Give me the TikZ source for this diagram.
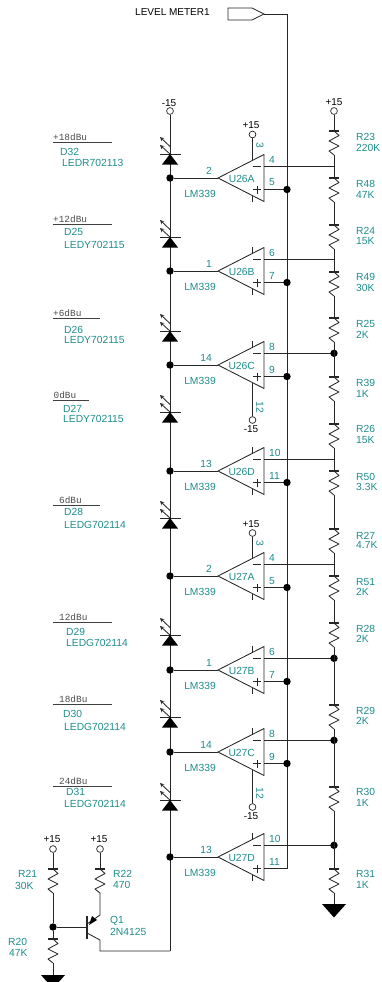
\documentclass[tikz,border=0pt]{standalone}
\usepackage{fontspec}
\setmainfont{Liberation Sans}
\setmonofont{Liberation Mono}
\definecolor{partteal}{RGB}{30,140,140}
\tikzset{
  wire/.style={line width=0.85pt,black!85},
  dot/.style={circle,fill=black,inner sep=0pt,minimum size=7.4pt},
  pad/.style={circle,draw=black!85,fill=white,line width=0.7pt,inner sep=0pt,minimum size=6.8pt},
  part/.style={text=partteal,font=\fontsize{10.3}{10.3}\selectfont,inner sep=0pt},
  volt/.style={text=black,font=\fontsize{10}{10}\selectfont,inner sep=0pt},
  level/.style={text=black!70,font=\ttfamily\fontsize{9.4}{9.4}\selectfont,inner sep=0pt,anchor=west},
  pics/res/.style={code={
    \draw[line width=1.3pt,black!85] (-5,0) -- (5,0);
    \draw[wire,line join=round] (0,0) -- (5,4.5) -- (-5,10) -- (5,15) -- (-5,20) -- (0,24);
    \coordinate (-top) at (0,0);
    \coordinate (-bot) at (0,24);
  }},
  pics/led/.style={code={
    \draw[wire] (-10.5,0) -- (10.5,0);
    \fill (-8,10.5) -- (8,10.5) -- (0,0) -- cycle;
    \draw[wire,->,>=stealth] (0,-7.5) -- (-10,-17);
    \draw[wire,->,>=stealth] (0,0) -- (-10,-9);
  }},
  pics/gnd/.style={code={
    \fill (-12,0) -- (12,0) -- (0,13.5) -- cycle;
  }}
}
\begin{document}
\begin{tikzpicture}[x=1pt,y=-1pt]
\useasboundingbox (0,0) rectangle (381,982);

% output tag and the two long rails
\draw[wire,line join=miter] (228,8) -- (252,8) -- (264,14) -- (252,20) -- (228,20) -- cycle;
\node[volt,anchor=west] (tagtext) at (135,12.5) {LEVEL METER1};
\coordinate (tagtip) at (264,14);
\coordinate (railtop) at (287,14);
\coordinate (railend) at (287,868.5);
\draw[wire] (tagtip) -- (railtop) -- (railend);

\node[pad] (vee) at (170,111) {};
\node[volt] (veetext) at (169,103) {-15};
\coordinate (ledend) at (170,951);
\draw[wire] (vee) -- (ledend);

\node[pad] (vcc) at (334,111) {};
\node[volt] (vcctext) at (334,102.5) {+15};
\coordinate (ladder) at (334,0);

% leds
\foreach \ypos in {154,237,331,412,518,635,717,800}{
  \pic at (170,\ypos) {led};
}
\foreach \lvl/\lx/\ly/\lend/\dname/\dx/\dy/\lname/\ex/\ey in {
  +18dBu/53/137/112/D32/60/152/LEDR702113/62/163,
  +12dBu/53/219/112/D25/64/232/LEDY702115/64/244.5,
  +6dBu/53/313/100/D26/64/329.5/LEDY702115/64/339.5,
  0dBu/53.5/395/89/D27/63/408.5/LEDY702115/63/419,
  6dBu/59/500/100/D28/64/512/LEDG702114/64/524.5,
  12dBu/59/616.7/112/D29/66/632/LEDG702114/66/642.5,
  18dBu/59/699/112/D30/63/714/LEDG702114/64/727,
  24dBu/59/781/112/D31/66/792/LEDG702114/64/804}{
  \node[level] (lvl\dname) at (\lx,\ly) {\lvl};
  \draw[line width=0.9pt,black!75] (53,\ly+5.7) -- (\lend,\ly+5.7);
  \node[part,anchor=west] (\dname) at (\dx,\dy) {\dname};
  \node[part,anchor=west] (val\dname) at (\ex,\ey) {\lname};
}

% comparators
\foreach \name/\ypos/\pin/\pinm/\pinp in {
  U26A/178/2/4/5, U26B/271/1/6/7, U26C/365/14/8/9, U26D/471/13/10/11,
  U27A/576/2/4/5, U27B/670/1/6/7, U27C/752/14/8/9, U27D/857/13/10/11}{
  \coordinate (\name) at (218,\ypos);
  \draw[wire,line join=miter] (\name) -- ++(46,-23.5) -- ++(0,47) -- cycle;
  \coordinate (\name m) at (264,\ypos-11.7);
  \coordinate (\name p) at (264,\ypos+11.5);
  \node[dot] (in\name) at (170,\ypos) {};
  \draw[wire] (in\name) -- (\name);
  \draw[wire] (\name m) -- (\name m -| ladder);
  \draw[wire] (\name p) -- (\name p -| railtop);
  \draw[wire] (252.5,\ypos-17.5) -- (252.5,\ypos-24);
  \draw[wire] (252.5,\ypos+17.5) -- (252.5,\ypos+24);
  \draw[wire] (253,\ypos-11.7) -- (261,\ypos-11.7);
  \draw[wire] (253,\ypos+11.5) -- (261,\ypos+11.5) (257,\ypos+7.5) -- (257,\ypos+15.5);
  \node[part] (text\name) at (241.7,\ypos+1) {\name};
  \node[part,anchor=east] (pin\name) at (212,\ypos-7.5) {\pin};
  \node[part] (type\name) at (200,\ypos+16) {LM339};
  \node[part,anchor=west] (pinm\name) at (269,\ypos-17.7) {\pinm};
  \node[part,anchor=west] (pinp\name) at (269,\ypos+4.5) {\pinp};
}
\foreach \name in {U26A,U26B,U26C,U26D,U27A,U27B,U27C}{
  \node[dot] (on\name) at (\name p -| railtop) {};
}
\foreach \name in {U26C,U27B,U27C,U27D}{
  \node[dot] (tap\name) at (\name m -| ladder) {};
}

% comparator supplies
\node[pad] (vccA) at (252.5,134.5) {};
\node[volt] (vccAtext) at (251,125.5) {+15};
\draw[wire] (vccA) -- (252.5,160.5);
\node[part,rotate=-90] (threeA) at (260,145) {3};
\node[pad] (vccB) at (252.5,533) {};
\node[volt] (vccBtext) at (251,524) {+15};
\draw[wire] (vccB) -- (252.5,558.5);
\node[part,rotate=-90] (threeB) at (260,543) {3};
\node[pad] (veeC) at (252.5,420) {};
\node[volt] (veeCtext) at (251,429.5) {-15};
\draw[wire] (veeC) -- (252.5,382.5);
\node[part,rotate=-90] (twelveC) at (260,407) {12};
\node[pad] (veeD) at (252.5,807) {};
\node[volt] (veeDtext) at (251,816.5) {-15};
\draw[wire] (veeD) -- (252.5,769.5);
\node[part,rotate=-90] (twelveD) at (260,793) {12};

% resistor ladder
\foreach \rname/\ypos/\rval/\ra/\rb in {
  R23/131/220K/136.5/147.5, R48/178/47K/184/195, R24/225/15K/230.5/241.5,
  R49/272/30K/277/288, R25/318/2K/324/335, R39/377/1K/383/394,
  R26/424/15K/429/440, R50/471/3.3K/477/487, R27/529/4.7K/536/545,
  R51/576/2K/582/592, R28/623/2K/629/639, R29/705/2K/711/721,
  R30/787/1K/792/803, R31/869/1K/874/885}{
  \pic (\rname) at (334,\ypos) {res};
  \node[part,anchor=west] (name\rname) at (356,\ra) {\rname};
  \node[part,anchor=west] (val\rname) at (356,\rb) {\rval};
}
\draw[wire] (vcc) -- (R23-top);
\foreach \ra/\rb in {R23/R48,R48/R24,R24/R49,R49/R25,R25/R39,R39/R26,R26/R50,
  R50/R27,R27/R51,R51/R28,R28/R29,R29/R30,R30/R31}{
  \draw[wire] (\ra-bot) -- (\rb-top);
}
\pic (gndA) at (334,904) {gnd};
\coordinate (gndAtop) at (334,904);
\draw[wire] (R31-bot) -- (gndAtop);

% driver transistor
\node[pad] (vccQa) at (53,849) {};
\node[volt] (vccQatext) at (52,839) {+15};
\node[pad] (vccQb) at (100,849) {};
\node[volt] (vccQbtext) at (99,839) {+15};
\pic (R21) at (53,869) {res};
\pic (R22) at (100,869) {res};
\pic (R20) at (53,939) {res};
\node[part,anchor=west] (nameR21) at (18,874) {R21};
\node[part,anchor=west] (valR21) at (15,886) {30K};
\node[part,anchor=west] (nameR22) at (113,874) {R22};
\node[part,anchor=west] (valR22) at (113,885) {470};
\node[part,anchor=west] (nameR20) at (8,942) {R20};
\node[part,anchor=west] (valR20) at (9,953) {47K};
\node[part,anchor=west] (nameQ1) at (110,921) {Q1};
\node[part,anchor=west] (typeQ1) at (110,932) {2N4125};
\node[dot] (base) at (53,927) {};
\coordinate (qbar) at (87,927);
\coordinate (qemit) at (100,915);
\coordinate (qcoll) at (100,940);
\coordinate (qcorner) at (100,951);
\draw[line width=1.3pt,black!85] (87,916) -- (87,939);
\draw[wire] (vccQa) -- (R21-top);
\draw[wire] (vccQb) -- (R22-top);
\draw[wire] (R21-bot) -- (base);
\draw[wire] (base) -- (R20-top);
\draw[wire] (base) -- (qbar);
\draw[wire] (R22-bot) -- (qemit) -- (87,924);
\fill (89,925) -- (97,920) -- (92,916) -- cycle;
\draw[wire] (87,933) -- (qcoll) -- (qcorner) -- (ledend);
\pic (gndB) at (53,975) {gnd};
\coordinate (gndBtop) at (53,975);
\draw[wire] (R20-bot) -- (gndBtop);
\end{tikzpicture}
\end{document}
